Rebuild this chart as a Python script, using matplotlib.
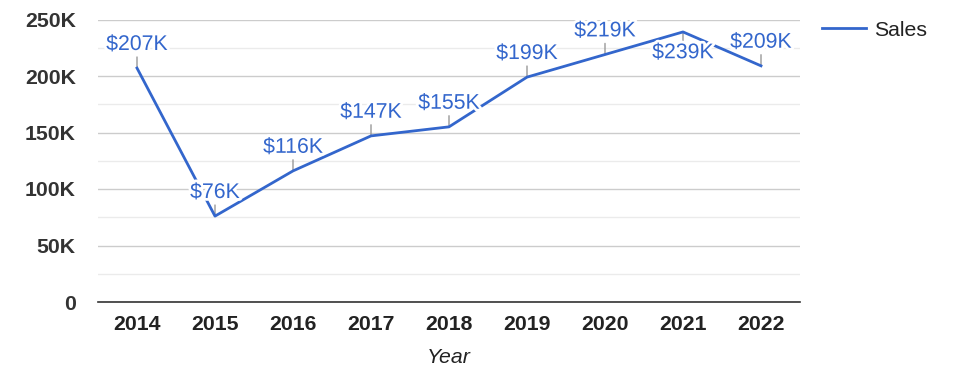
import matplotlib
matplotlib.use("Agg")
import matplotlib.pyplot as plt
import matplotlib.patheffects as pe

years = ['2014', '2015', '2016', '2017', '2018', '2019', '2020', '2021', '2022']
sales = [207000, 76000, 116000, 147000, 155000, 199000, 219000, 239000, 209000]
point_labels = ['$207K', '$76K', '$116K', '$147K', '$155K', '$199K', '$219K', '$239K', '$209K']
y_ticks = [0, 50000, 100000, 150000, 200000, 250000]
y_tick_labels = ['0', '50K', '100K', '150K', '200K', '250K']
labels_below = {'2021'}

plt.rcParams['font.family'] = ['Liberation Sans', 'DejaVu Sans']
FS = 15.3
BLUE = '#3366cc'
DARK = '#222222'

fig = plt.figure(figsize=(9.75, 3.78), dpi=100)
ax = fig.add_axes([98/975, 1 - 302/378, (800-98)/975, (302-19.5)/378])

x = list(range(len(years)))
ax.plot(x, sales, color=BLUE, lw=2, label='Sales', zorder=3)

ax.set_xlim(-0.5, len(years) - 0.5)
ax.set_ylim(0, 250000)
ax.set_yticks(y_ticks)
ax.set_yticklabels(y_tick_labels, fontsize=FS, fontweight='bold', color='#333333')
ax.set_yticks([25000, 75000, 125000, 175000, 225000], minor=True)
ax.set_xticks(x)
ax.set_xticklabels(years, fontsize=FS, fontweight='bold', color=DARK)
ax.tick_params(axis='y', which='both', length=0, pad=16)
ax.tick_params(axis='x', which='both', length=0, pad=9.5)
ax.grid(axis='y', which='major', color='#cccccc', lw=1, zorder=0)
ax.grid(axis='y', which='minor', color='#ebebeb', lw=1, zorder=0)
for s in ['top', 'right', 'left']:
    ax.spines[s].set_visible(False)
ax.spines['bottom'].set_color('#333333')
ax.spines['bottom'].set_linewidth(1.2)
ax.spines['bottom'].set_zorder(4)
ax.set_xlabel('Year', fontsize=FS, style='italic', color=DARK, labelpad=10)

for i, (yr, v, lab) in enumerate(zip(years, sales, point_labels)):
    sign = -1 if yr in labels_below else 1
    ax.annotate('', xy=(i, v), xytext=(0, sign * 8), textcoords='offset points',
                arrowprops=dict(arrowstyle='-', color='#999999', lw=1, shrinkA=0, shrinkB=0),
                zorder=2)
    t = ax.annotate(lab, xy=(i, v), xytext=(0, 17 if sign > 0 else -15),
                    textcoords='offset points', ha='center', va='center',
                    fontsize=FS, color=BLUE, zorder=5)
    t.set_path_effects([pe.withStroke(linewidth=4, foreground='white')])

leg = fig.legend(loc='center left', bbox_to_anchor=(822/975, 1 - 30/378), frameon=False,
                 fontsize=FS, handlelength=2.05, handletextpad=0.42, borderpad=0,
                 borderaxespad=0)
for t in leg.get_texts():
    t.set_color(DARK)

fig.savefig('out.png', dpi=100, facecolor='white')
